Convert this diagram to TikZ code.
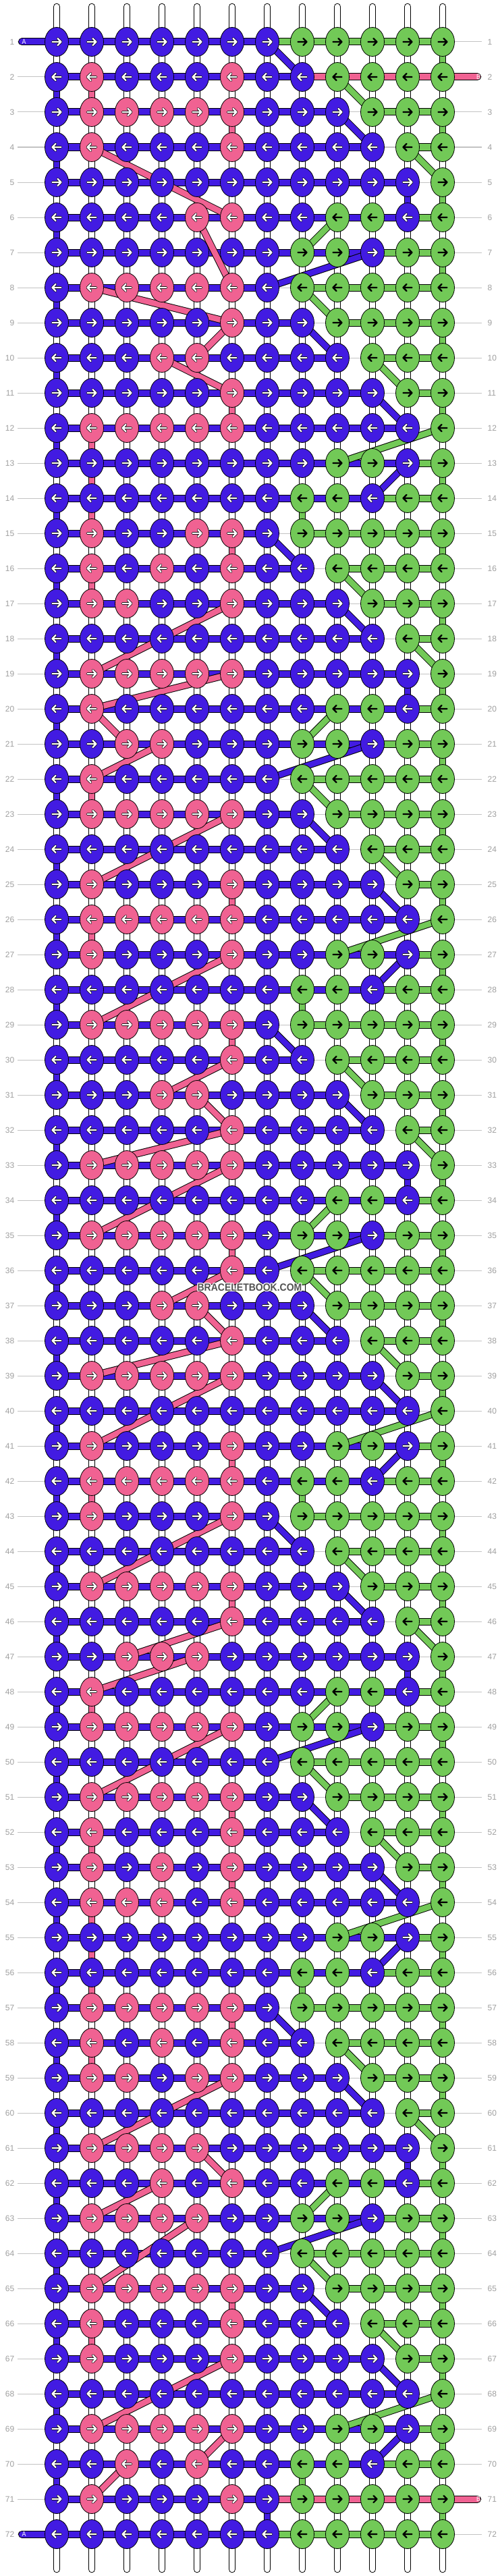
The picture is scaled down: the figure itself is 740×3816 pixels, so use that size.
\documentclass[tikz,border=0pt]{standalone}
\usepackage{fontspec}
\setmainfont{Liberation Sans}
\definecolor{cB}{RGB}{66,27,226}
\definecolor{cP}{RGB}{240,98,146}
\definecolor{cG}{RGB}{114,201,87}
\definecolor{cLab}{RGB}{160,160,160}
\definecolor{cLine}{RGB}{195,195,195}
\ExplSyntaxOn
\seq_new:N \g_bb_rows_seq
\seq_gset_from_clist:Nn \g_bb_rows_seq
  {
    BBBBBBBGGGGG, BPBBBPBBGGGG, BPPPPPBBBGGG, BPBBBPBBBBGG, BBBBBBBBBBBG, BBBBPPBBGGBG,
    BBBBBBBGGBGG, BPPPPPBGGGGG, BBBBBPBBGGGG, BBBPPBBBBGGG, BBBBBPBBBBGG, BPPPPPBBBBBG,
    BBBBBBBBGGBG, BBBBBBBGGBGG, BPBBPPBGGGGG, BPBPBPBBGGGG, BPPBBPBBBGGG, BBBBBBBBBBGG,
    BPPPPPBBBBBG, BPBBBBBBGGBG, BBPPBBBGGBGG, BPBBBBBGGGGG, BPPPPPBBGGGG, BBBBBBBBBGGG,
    BPBBBPBBBBGG, BPPPPPBBBBBG, BPBBBPBBGGBG, BBBBBBBGGBGG, BPPPPPBGGGGG, BBBBBPBBGGGG,
    BBBPPBBBBGGG, BBBBBPBBBBGG, BPPPPPBBBBBG, BBBBBBBBGGBG, BPPPPPBGGBGG, BBBBBPBGGGGG,
    BBBPPBBBGGGG, BBBBBPBBBGGG, BPPPPPBBBBGG, BBBBBBBBBBBG, BPBBBPBBGGBG, BPPPPPBGGBGG,
    BPBBBPBGGGGG, BBBBBBBBGGGG, BPPPPPBBBGGG, BBBBBPBBBBGG, BBPPPBBBBBBG, BPBBBBBBGGBG,
    BPPPPPBGGBGG, BBBBBBBGGGGG, BPPPPPBBGGGG, BPBBBPBBBGGG, BPBPBPBBBBGG, BPPPBPBBBBBG,
    BBBBBBBBGGBG, BBBBBBBGGBGG, BPPPPPBGGGGG, BPBPBPBBGGGG, BPPBPPBBBGGG, BBBBBBBBBBGG,
    BPPPPBBBBBBG, BBBPBPBBGGBG, BPPPPBBGGBGG, BBBBBBBGGGGG, BPPPPPBBGGGG, BPBBBPBBBGGG,
    BPBBBPBBBBGG, BBBBBBBBBBBG, BPPPPPBBGGBG, BBPBPBBGGBGG, BPBBBPBGGGGG, BBBBBBBGGGGG
  }
\tl_new:N \l_bb_row_tl
\int_new:N \l_bb_min_int
\int_new:N \l_bb_max_int
\int_new:N \l_bb_first_int
\int_new:N \l_bb_last_int
\int_new:N \l_bb_prevr_int
\int_new:N \l_bb_prevc_int
\seq_new:N \l_bb_span_seq
\seq_new:N \l_bb_conn_seq
\seq_new:N \l_bb_knot_seq
\cs_new_protected:Npn \bb_minmax:nn #1 #2
  {
    \tl_set:Nx \l_bb_row_tl { \seq_item:Nn \g_bb_rows_seq {#2} }
    \int_zero:N \l_bb_min_int
    \int_zero:N \l_bb_max_int
    \int_step_inline:nn { 12 }
      {
        \str_if_eq:eeT { \tl_item:Nn \l_bb_row_tl {##1} } {#1}
          {
            \int_compare:nNnT { \l_bb_min_int } = { 0 }
              { \int_set:Nn \l_bb_min_int {##1} }
            \int_set:Nn \l_bb_max_int {##1}
          }
      }
  }
\cs_new_protected:Npn \bb_color:n #1
  {
    \seq_clear:N \l_bb_span_seq
    \seq_clear:N \l_bb_conn_seq
    \int_zero:N \l_bb_prevr_int
    \int_zero:N \l_bb_prevc_int
    \int_step_inline:nn { 72 }
      {
        \bb_minmax:nn {#1} {##1}
        \int_compare:nNnF { \l_bb_min_int } = { 0 }
          {
            \int_if_odd:nTF {##1}
              {
                \int_set_eq:NN \l_bb_first_int \l_bb_min_int
                \int_set_eq:NN \l_bb_last_int \l_bb_max_int
              }
              {
                \int_set_eq:NN \l_bb_first_int \l_bb_max_int
                \int_set_eq:NN \l_bb_last_int \l_bb_min_int
              }
            \int_compare:nNnF { \l_bb_prevr_int } = { 0 }
              {
                \seq_put_right:Nx \l_bb_conn_seq
                  {
                    \int_use:N \l_bb_prevr_int /
                    \int_use:N \l_bb_prevc_int /
                    ##1 /
                    \int_use:N \l_bb_first_int
                  }
              }
            \int_set:Nn \l_bb_prevr_int {##1}
            \int_set_eq:NN \l_bb_prevc_int \l_bb_last_int
            \str_if_eq:nnT {#1} {G}
              {
                \int_compare:nNnT {##1} = {1} { \int_set:Nn \l_bb_min_int {1} }
                \int_compare:nNnT {##1} = {72} { \int_set:Nn \l_bb_min_int {1} }
              }
            \str_if_eq:nnT {#1} {P}
              {
                \int_compare:nNnT {##1} = {2} { \int_set:Nn \l_bb_max_int {12} }
                \int_compare:nNnT {##1} = {71} { \int_set:Nn \l_bb_max_int {12} }
              }
            \seq_put_right:Nx \l_bb_span_seq
              { ##1 / \int_use:N \l_bb_min_int / \int_use:N \l_bb_max_int }
          }
      }
    \tl_gset:cx { bbspan #1 } { \seq_use:Nn \l_bb_span_seq {,} }
    \tl_gset:cx { bbconn #1 } { \seq_use:Nn \l_bb_conn_seq {,} }
  }
\bb_color:n {G}
\bb_color:n {P}
\bb_color:n {B}
\int_step_inline:nn { 72 }
  {
    \tl_set:Nx \l_bb_row_tl { \seq_item:Nn \g_bb_rows_seq {#1} }
    \int_step_inline:nn { 12 }
      {
        \seq_put_right:Nx \l_bb_knot_seq
          { #1 / ##1 / \tl_item:Nn \l_bb_row_tl {##1} }
      }
  }
\tl_gset:Nx \bbknots { \seq_use:Nn \l_bb_knot_seq {,} }
\ExplSyntaxOff
\tikzset{
  lab/.style={text=cLab, font=\fontsize{12}{12}\selectfont, inner sep=0pt},
  arr/.style={line width=2.2pt, line cap=round, line join=round},
  endlab/.style={text=white, font=\fontsize{10.5}{10.5}\selectfont, inner sep=0pt, xscale=0.85}
}
\newcommand\bbbars[2]{%
  \foreach \rr/\ca/\cb in #1 {%
    \ifnum\ca<\cb\relax
      \draw[line width=11pt] ({32+52*\ca},{10+52*\rr}) -- ({32+52*\cb},{10+52*\rr});
      \draw[#2, line width=9pt] ({32+52*\ca},{10+52*\rr}) -- ({32+52*\cb},{10+52*\rr});
    \fi
  }}
\newcommand\bbconns[2]{%
  \foreach \ra/\ca/\rb/\cb in #1 {%
    \draw[line width=10.5pt] ({32+52*\ca},{10+52*\ra}) -- ({32+52*\cb},{10+52*\rb});
    \draw[#2, line width=8.5pt] ({32+52*\ca},{10+52*\ra}) -- ({32+52*\cb},{10+52*\rb});
  }}
\begin{document}
\begin{tikzpicture}[x=1pt,y=-1pt]
\useasboundingbox (0,0) rectangle (740,3816);
\fill[white] (0,0) rectangle (740,3816);
% row lines and labels
\foreach \r in {1,...,72}{
  \draw[cLine, line width=1pt] (26,{10+52*\r}) -- (714,{10+52*\r});
  \node[lab, anchor=east] (labL\r) at (21.5,{10+52*\r}) {\r};
  \node[lab, anchor=west] (labR\r) at (722.5,{10+52*\r}) {\r};
}
% base strings
\foreach \c in {1,...,12}{
  \draw[line width=10.5pt, line cap=round] ({32+52*\c},10) -- ({32+52*\c},3806);
  \draw[white, line width=8.5pt, line cap=round] ({32+52*\c},10) -- ({32+52*\c},3806);
}
% horizontal thread bars
\bbbars{\bbspanG}{cG}
\bbbars{\bbspanP}{cP}
\bbbars{\bbspanB}{cB}
% thread ends
\draw[line width=11pt, line cap=round] (32.5,62) -- (84,62);
\draw[cB, line width=9pt, line cap=round] (32.5,62) -- (84,62);
\draw[line width=11pt, line cap=round] (32.5,3754) -- (84,3754);
\draw[cB, line width=9pt, line cap=round] (32.5,3754) -- (84,3754);
\draw[line width=11pt, line cap=round] (656,114) -- (707.5,114);
\draw[cP, line width=9pt, line cap=round] (656,114) -- (707.5,114);
\draw[line width=11pt, line cap=round] (656,3702) -- (707.5,3702);
\draw[cP, line width=9pt, line cap=round] (656,3702) -- (707.5,3702);
\node[endlab] (endA1) at (35.5,62) {A};
\node[endlab] (endA2) at (35.5,3754) {A};
\node[endlab] (endB1) at (709,114) {B};
\node[endlab] (endB2) at (709,3702) {B};
% connections between rows
\bbconns{\bbconnG}{cG}
\bbconns{\bbconnP}{cP}
\bbconns{\bbconnB}{cB}
% knots
\foreach \r/\c/\k in \bbknots {
  \pgfmathsetmacro\X{32+52*\c}
  \pgfmathsetmacro\Y{10+52*\r}
  \ifodd\r\relax \def\s{1}\else\def\s{-1}\fi
  \filldraw[fill=c\k, draw=black, line width=0.8pt] (\X,\Y) ellipse [x radius=17.5pt, y radius=21.5pt];
  \if\k G
    \draw[black, arr] ({\X-6.5*\s},\Y) -- ({\X+6.5*\s},\Y) ({\X+1.5*\s},{\Y-5}) -- ({\X+6.5*\s},\Y) -- ({\X+1.5*\s},{\Y+5});
  \else
    \draw[black, arr, line width=3.6pt] ({\X-6.5*\s},\Y) -- ({\X+6.5*\s},\Y) ({\X+1.5*\s},{\Y-5}) -- ({\X+6.5*\s},\Y) -- ({\X+1.5*\s},{\Y+5});
    \draw[white, arr] ({\X-6.5*\s},\Y) -- ({\X+6.5*\s},\Y) ({\X+1.5*\s},{\Y-5}) -- ({\X+6.5*\s},\Y) -- ({\X+1.5*\s},{\Y+5});
  \fi
}
% watermark
\foreach \dx/\dy in {-1/-1,-1/0,-1/1,0/-1,0/1,1/-1,1/0,1/1}{
  \node[text=white, font=\bfseries\fontsize{14}{14}\selectfont, yscale=1.1] at ({370+\dx},{1907+\dy}) {BRACELETBOOK.COM};
}
\node[text=black!68, font=\bfseries\fontsize{14}{14}\selectfont, yscale=1.1] (wm) at (370,1907) {BRACELETBOOK.COM};
\end{tikzpicture}
\end{document}
